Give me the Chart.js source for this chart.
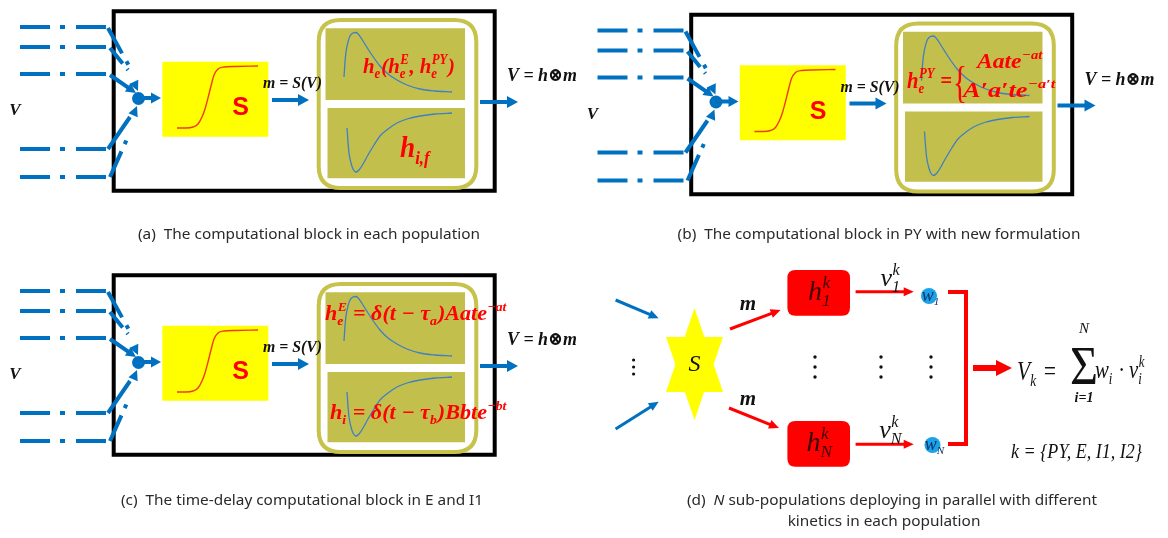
<!DOCTYPE html>
<html>
<head>
<meta charset="utf-8">
<script src="https://cdn.jsdelivr.net/npm/chart.js@4.4.1/dist/chart.umd.min.js"></script>
<style>
  html, body { margin: 0; padding: 0; background: #ffffff; }
  canvas { display: block; }
</style>
</head>
<body>
<canvas id="diagram" width="1168" height="538"></canvas>
<script>
// ---------- values ----------
// y of the five incoming pathways (frame of block a)
const inputLevels = [27, 47, 74, 149, 177];
// S(V) sigmoid trace inside the yellow box
const sigmoidTrace = [[177,128],[186,128],[193,127],[198,124],[202,117],[205,109],[208,98],[211,86],[214,75],[218,69],[224,67],[235,66.5],[258,66]];
// excitatory kernel (alpha function) trace
const excitatoryTrace = [[344,77],[345,62],[346,52],[348,42],[350,36],[353,33],[356,32.5],[359,35],[363,41],[368,49],[374,58],[380,66],[388,74],[397,80],[407,85],[420,89],[435,91],[452,92]];
// inhibitory kernel trace
const inhibitoryTrace = [[347,128],[348,142],[349,153],[351,163],[353,169],[356,172],[359,170],[363,164],[368,155],[374,145],[380,136],[388,129],[397,123],[407,119],[420,116],[435,114],[452,113]];
// shifts of blocks a, b, c
const blockShifts = [[0, 0], [577.5, 3.5], [0, 264]];

const captionA = '(a)  The computational block in each population';
const captionB = '(b)  The computational block in PY with new formulation';
const captionC = '(c)  The time-delay computational block in E and I1';
const captionD1 = ['(d)  ', {t: 'N', sty: 'italic'}, ' sub-populations deploying in parallel with different'];
const captionD2 = 'kinetics in each population';

const formulaA1 = ['h', {sub: 'e'}, '(h', {sub: 'e', sup: 'E'}, ', h', {sub: 'e', sup: 'PY'}, ')'];
const formulaA2 = ['h', {sub: 'i,f'}];
const formulaB0 = ['h', {sub: 'e', sup: 'PY'}, ' ='];
const formulaB1 = ['Aate', {sup: '−at'}];
const formulaB2 = ['A′a′te', {sup: '−a′t'}];
const formulaC1 = ['h', {sub: 'e', sup: 'E'}, ' = δ(t − τ', {sub: 'a'}, ')Aate', {sup: '−at'}];
const formulaC2 = ['h', {sub: 'i'}, ' = δ(t − τ', {sub: 'b'}, ')Bbte', {sup: '−bt'}];

const sumLhs = ['V', {sub: 'k'}, ' ='];
const sumTerm = ['w', {sub: 'i'}, ' · v', {sub: 'i', sup: 'k'}];
const kindSet = 'k = {PY, E, I1, I2}';

// ---------- styles ----------
const BLUE = '#0070c0', RED = '#ff0000', OLIVE = '#c6c24a', OLIVE_FILL = '#c3bf4c';
const YELLOW = '#ffff00', CURVE = '#3f7fc6', SIG = '#f23a16', INK = '#111111';
const MATH = '"Liberation Serif", "DejaVu Serif", serif';
const SANS = '"Noto Sans", "Open Sans", sans-serif';

// ---------- build marks ----------
const datasets = [];
const heads = [];
const under = [];
const over = [];
const texts = [];

function seg(pts, color, width, extra) {
  datasets.push(Object.assign({
    data: pts.map(([x, y]) => ({x, y})),
    borderColor: color, borderWidth: width, showLine: true,
    pointRadius: 0, pointHoverRadius: 0, fill: false, tension: 0,
    borderCapStyle: 'butt', borderJoinStyle: 'miter'
  }, extra || {}));
}
function head(tip, from, color, len, wid) {
  const dx = tip[0] - from[0], dy = tip[1] - from[1], L = Math.hypot(dx, dy);
  heads.push({tip, ux: dx / L, uy: dy / L, len, wid, color});
}
function arrow(from, tip, color, width, len, wid) {
  const dx = tip[0] - from[0], dy = tip[1] - from[1], L = Math.hypot(dx, dy);
  const end = [tip[0] - dx / L * len * 0.6, tip[1] - dy / L * len * 0.6];
  seg([from, end], color, width);
  head(tip, from, color, len, wid);
}

blockShifts.forEach(([sx, sy]) => {
  const T = ([x, y]) => [x + sx, y + sy];
  // frame boxes
  under.push({k: 'rect', x0: 113.7 + sx, y0: 11.3 + sy, x1: 494.7 + sx, y1: 190.7 + sy, stroke: '#000', lw: 4});
  under.push({k: 'rect', x0: 162.3 + sx, y0: 61.7 + sy, x1: 268.3 + sx, y1: 136.7 + sy, fill: YELLOW});
  under.push({k: 'rect', x0: 318.7 + sx, y0: 20 + sy, x1: 476.3 + sx, y1: 188 + sy, r: 22, stroke: OLIVE, lw: 4, fill: '#fff'});
  under.push({k: 'rect', x0: 325.5 + sx, y0: 28.3 + sy, x1: 465 + sx, y1: 100 + sy, fill: OLIVE_FILL});
  under.push({k: 'rect', x0: 327.5 + sx, y0: 108 + sy, x1: 465 + sx, y1: 178.3 + sy, fill: OLIVE_FILL});

  // incoming pathways
  inputLevels.forEach(y => seg([T([20, y]), T([107, y])], BLUE, 4, {borderDash: [30, 10, 5, 11]}));
  seg([T([108, 28]), T([129, 66])], BLUE, 4, {borderDash: [29, 9, 4, 60]});
  seg([T([110, 48]), T([128, 70])], BLUE, 4, {borderDash: [20, 7, 4, 60]});
  arrow(T([110, 75]), T([136, 93]), BLUE, 4, 10, 10);
  head(T([138, 91]), T([131, 76]), BLUE, 10, 10);
  seg([T([108, 149]), T([130, 117])], BLUE, 4);
  seg([T([110, 177]), T([127, 139])], BLUE, 4, {borderDash: [28, 8, 4, 60]});
  head(T([137, 106]), T([131, 120]), BLUE, 10, 10);
  arrow(T([140, 98]), T([161, 98]), BLUE, 4, 10, 11);
  over.push({k: 'circle', cx: 138.5 + sx, cy: 98.5 + sy, r: 6.5, fill: BLUE});

  // S -> kernels, kernels -> output
  arrow(T([272, 100]), T([309, 100]), BLUE, 4, 11, 12);
  arrow(T([480, 102]), T([518, 102]), BLUE, 4, 11, 12);

  // traces
  seg(sigmoidTrace.map(T), SIG, 1.4, {cubicInterpolationMode: 'monotone'});
  seg(excitatoryTrace.map(T), CURVE, 1.3, {cubicInterpolationMode: 'monotone'});
  seg(inhibitoryTrace.map(T), CURVE, 1.3, {cubicInterpolationMode: 'monotone'});

  // labels common to the three blocks
  texts.push({toks: ['V'], x: 15 + sx, y: 115 + sy, size: 17, sty: 'italic bold', fam: MATH, color: INK, align: 'center'});
  texts.push({toks: ['m = S(V)'], x: 263 + sx, y: 88 + sy, size: 17, sty: 'italic bold', fam: MATH, color: INK, width: 59});
  texts.push({toks: ['S'], x: 240.5 + sx, y: 115 + sy, size: 25, sty: 'bold', fam: '"Liberation Sans", Arial, sans-serif', color: RED, align: 'center'});
  texts.push({toks: ['V = h⊗m'], x: 507 + sx, y: 81 + sy, size: 19, sty: 'italic bold', fam: MATH, color: INK, width: 70});
});

// block-specific kernel formulas
texts.push({toks: formulaA1, x: 363, y: 73, size: 22, sty: 'italic bold', fam: MATH, color: RED, width: 92});
texts.push({toks: formulaA2, x: 400, y: 157, size: 30, sty: 'italic bold', fam: MATH, color: RED, width: 31});
texts.push({toks: formulaB0, x: 907, y: 88, size: 24, sty: 'italic bold', fam: MATH, color: RED, width: 45});
texts.push({toks: ['{'], x: 953, y: 97, size: 44, sty: '', fam: MATH, color: RED, width: 14});
texts.push({toks: formulaB1, x: 977, y: 68, size: 21, sty: 'italic bold', fam: MATH, color: RED, width: 66});
texts.push({toks: formulaB2, x: 963, y: 97, size: 21, sty: 'italic bold', fam: MATH, color: RED, width: 93});
texts.push({toks: formulaC1, x: 325, y: 320, size: 21, sty: 'italic bold', fam: MATH, color: RED, width: 182});
texts.push({toks: formulaC2, x: 330, y: 419, size: 21, sty: 'italic bold', fam: MATH, color: RED, width: 177});

// ---------- block d : parallel sub-populations ----------
over.push({k: 'poly', pts: [[694.5, 308], [666, 392], [723, 392]], fill: YELLOW});
over.push({k: 'poly', pts: [[694.5, 420], [666, 337], [723, 337]], fill: YELLOW});
arrow([615.6, 300], [658.7, 318.3], BLUE, 3, 10, 9);
arrow([615.6, 429], [658.7, 401.7], BLUE, 3, 10, 9);
arrow([730, 329], [780.6, 310], RED, 3, 10, 9);
arrow([729, 408], [779, 428], RED, 3, 10, 9);
under.push({k: 'rect', x0: 787.4, y0: 270, x1: 850, y1: 315.7, r: 8, fill: RED});
under.push({k: 'rect', x0: 787.4, y0: 421, x1: 850, y1: 466.7, r: 8, fill: RED});
arrow([855.6, 291.7], [913.7, 291.7], RED, 3, 10, 9);
arrow([855.6, 444.3], [913.7, 444.3], RED, 3, 10, 9);
over.push({k: 'circle', cx: 929, cy: 296, r: 8, fill: '#1aa3e8'});
over.push({k: 'circle', cx: 932.5, cy: 445, r: 8, fill: '#1aa3e8'});
seg([[948, 292], [966, 292], [966, 444], [948, 444]], RED, 4);
arrow([973, 368], [1012, 368], RED, 6, 16, 16);
[633.6].forEach(x => [360, 367, 374].forEach(y => over.push({k: 'circle', cx: x, cy: y, r: 1.6, fill: INK})));
[815, 881, 931].forEach(x => [357, 367, 377].forEach(y => over.push({k: 'circle', cx: x, cy: y, r: 1.7, fill: INK})));

texts.push({toks: ['S'], x: 694.5, y: 371, size: 24, sty: 'italic', fam: MATH, color: INK, align: 'center'});
texts.push({toks: ['m'], x: 748, y: 310, size: 21, sty: 'italic bold', fam: MATH, color: INK, align: 'center'});
texts.push({toks: ['m'], x: 748, y: 405, size: 21, sty: 'italic bold', fam: MATH, color: INK, align: 'center'});
texts.push({toks: ['h', {sub: '1', sup: 'k'}], x: 820, y: 300, size: 28, sty: 'italic', fam: MATH, color: '#3a0000', align: 'center'});
texts.push({toks: ['h', {sub: 'N', sup: 'k'}], x: 820, y: 451, size: 28, sty: 'italic', fam: MATH, color: '#3a0000', align: 'center'});
texts.push({toks: ['v', {sub: '1', sup: 'k'}], x: 891, y: 286, size: 26, sty: 'italic', fam: MATH, color: INK, align: 'center'});
texts.push({toks: ['v', {sub: 'N', sup: 'k'}], x: 891, y: 438, size: 26, sty: 'italic', fam: MATH, color: INK, align: 'center'});
texts.push({toks: ['w', {sub: '1'}], x: 931, y: 301, size: 18, sty: 'italic', fam: MATH, color: '#14306a', align: 'center'});
texts.push({toks: ['w', {sub: 'N'}], x: 935, y: 450, size: 18, sty: 'italic', fam: MATH, color: '#14306a', align: 'center'});
texts.push({toks: sumLhs, x: 1017, y: 380, size: 28, sty: 'italic', fam: MATH, color: INK, width: 40});
texts.push({toks: ['Σ'], x: 1084, y: 384, size: 54, sty: '', fam: MATH, color: INK, align: 'center', width: 28});
texts.push({toks: ['N'], x: 1084, y: 333, size: 15, sty: 'italic', fam: MATH, color: INK, align: 'center'});
texts.push({toks: ['i=1'], x: 1084, y: 402, size: 14, sty: 'italic bold', fam: MATH, color: INK, align: 'center'});
texts.push({toks: sumTerm, x: 1095, y: 378, size: 26, sty: 'italic', fam: MATH, color: INK, width: 50});
texts.push({toks: [kindSet], x: 1011, y: 458, size: 22, sty: 'italic', fam: MATH, color: INK, width: 131});

// captions
const CAP = {size: 15, sty: '', fam: SANS, color: '#2a2a2a', align: 'center', capFit: true};
texts.push(Object.assign({toks: [captionA], x: 309, y: 239, fitWidth: 342}, CAP));
texts.push(Object.assign({toks: [captionB], x: 879, y: 239}, CAP));
texts.push(Object.assign({toks: [captionC], x: 302, y: 505}, CAP));
texts.push(Object.assign({toks: captionD1, x: 892, y: 505}, CAP));
texts.push(Object.assign({toks: [captionD2], x: 884, y: 526}, CAP));

// ---------- drawing helpers ----------
const fontOf = (sty, size, fam) => `${sty} ${size}px ${fam}`.trim();
function tokWidth(ctx, t, o) {
  if (typeof t === 'string' || t.t !== undefined) {
    const s = typeof t === 'string' ? t : t.t;
    ctx.font = fontOf(t.sty !== undefined ? t.sty : o.sty, o.size, o.fam);
    return ctx.measureText(s).width;
  }
  ctx.font = fontOf(o.sty, o.size * 0.62, o.fam);
  const a = t.sub ? ctx.measureText(t.sub).width : 0;
  const b = t.sup ? ctx.measureText(t.sup).width : 0;
  return Math.max(a, b) + o.size * 0.05;
}
function richWidth(ctx, o) { return o.toks.reduce((w, t) => w + tokWidth(ctx, t, o), 0); }
let captionScale = null;

function drawText(ctx, o, P) {
  const natural = richWidth(ctx, o);
  let k = 1;
  if (o.capFit) {
    if (captionScale === null) captionScale = o.fitWidth / natural;
    k = captionScale;
  } else if (o.width) {
    k = (P.x(o.x + o.width) - P.x(o.x)) / natural;
  }
  const w = natural * k;
  const px = P.x(o.x), py = P.y(o.y);
  const x0 = o.align === 'center' ? px - w / 2 : px;
  ctx.save();
  ctx.translate(x0, py);
  ctx.scale(k, 1);
  ctx.fillStyle = o.color;
  ctx.textAlign = 'left';
  ctx.textBaseline = 'alphabetic';
  let x = 0;
  for (const t of o.toks) {
    const tw = tokWidth(ctx, t, o);
    if (typeof t === 'string' || t.t !== undefined) {
      ctx.font = fontOf(t.sty !== undefined ? t.sty : o.sty, o.size, o.fam);
      ctx.fillText(typeof t === 'string' ? t : t.t, x, 0);
    } else {
      ctx.font = fontOf(o.sty, o.size * 0.62, o.fam);
      if (t.sup) ctx.fillText(t.sup, x + o.size * 0.02, -o.size * 0.42);
      if (t.sub) ctx.fillText(t.sub, x, o.size * 0.22);
    }
    x += tw;
  }
  ctx.restore();
}
function roundPath(ctx, x0, y0, x1, y1, r) {
  ctx.beginPath();
  ctx.moveTo(x0 + r, y0);
  ctx.lineTo(x1 - r, y0); ctx.quadraticCurveTo(x1, y0, x1, y0 + r);
  ctx.lineTo(x1, y1 - r); ctx.quadraticCurveTo(x1, y1, x1 - r, y1);
  ctx.lineTo(x0 + r, y1); ctx.quadraticCurveTo(x0, y1, x0, y1 - r);
  ctx.lineTo(x0, y0 + r); ctx.quadraticCurveTo(x0, y0, x0 + r, y0);
  ctx.closePath();
}
function drawShape(ctx, s, P) {
  ctx.save();
  if (s.k === 'rect') {
    const x0 = P.x(s.x0), y0 = P.y(s.y0), x1 = P.x(s.x1), y1 = P.y(s.y1);
    roundPath(ctx, x0, y0, x1, y1, s.r || 0);
    if (s.fill) { ctx.fillStyle = s.fill; ctx.fill(); }
    if (s.stroke) { ctx.strokeStyle = s.stroke; ctx.lineWidth = s.lw; ctx.stroke(); }
  } else if (s.k === 'circle') {
    ctx.beginPath();
    ctx.arc(P.x(s.cx), P.y(s.cy), s.r, 0, Math.PI * 2);
    ctx.fillStyle = s.fill; ctx.fill();
  } else if (s.k === 'poly') {
    ctx.beginPath();
    s.pts.forEach(([x, y], i) => i ? ctx.lineTo(P.x(x), P.y(y)) : ctx.moveTo(P.x(x), P.y(y)));
    ctx.closePath();
    ctx.fillStyle = s.fill; ctx.fill();
  }
  ctx.restore();
}
function drawHead(ctx, h, P) {
  const tx = P.x(h.tip[0]), ty = P.y(h.tip[1]);
  const bx = tx - h.ux * h.len, by = ty - h.uy * h.len;
  const nx = -h.uy * h.wid / 2, ny = h.ux * h.wid / 2;
  ctx.save();
  ctx.beginPath();
  ctx.moveTo(tx, ty); ctx.lineTo(bx + nx, by + ny); ctx.lineTo(bx - nx, by - ny);
  ctx.closePath();
  ctx.fillStyle = h.color; ctx.fill();
  ctx.restore();
}
const pixFns = chart => ({
  x: v => chart.scales.x.getPixelForValue(v),
  y: v => chart.scales.y.getPixelForValue(v)
});

const diagramLayer = {
  id: 'diagramLayer',
  beforeDatasetsDraw(chart) {
    const P = pixFns(chart);
    under.forEach(s => drawShape(chart.ctx, s, P));
  },
  afterDatasetsDraw(chart) {
    const P = pixFns(chart);
    const ctx = chart.ctx;
    heads.forEach(h => drawHead(ctx, h, P));
    over.forEach(s => drawShape(ctx, s, P));
    captionScale = null;
    texts.forEach(t => drawText(ctx, t, P));
  }
};

new Chart(document.getElementById('diagram'), {
  type: 'scatter',
  data: {datasets},
  options: {
    responsive: false,
    animation: false,
    events: [],
    layout: {padding: 0},
    scales: {
      x: {type: 'linear', min: 0, max: 1168, display: false},
      y: {type: 'linear', min: 0, max: 538, reverse: true, display: false}
    },
    plugins: {legend: {display: false}, tooltip: {enabled: false}}
  },
  plugins: [diagramLayer]
});
</script>
</body>
</html>
